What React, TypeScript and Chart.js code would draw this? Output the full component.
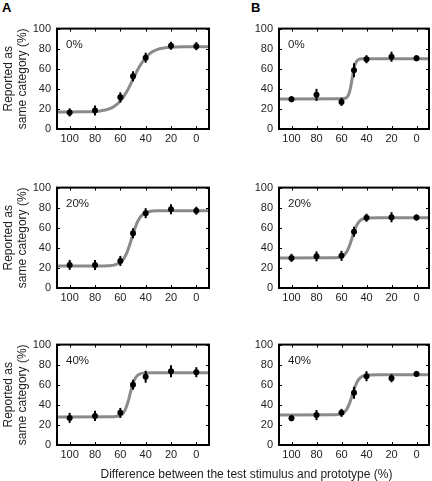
import React, { useEffect, useRef } from 'react';
import { Chart, registerables } from 'chart.js';

Chart.register(...registerables);

// ---------- data ----------
const POINT_X = [100, 80, 60, 50, 40, 20, 0];
const X_TICKS = [100, 80, 60, 40, 20, 0];
const Y_TICKS = [0, 20, 40, 60, 80, 100];
const PANEL_LABELS = ['0%', '20%', '40%'];
const COLUMN_LETTERS = ['A', 'B'];
const Y_TITLE = ['Reported as', 'same category (%)'];
const X_TITLE = 'Difference between the test stimulus and prototype (%)';

// column A
const A1_MEAN = [16.5, 18.5, 31.5, 52.5, 71, 83, 82.5];
const A1_ERR = [4, 5, 5, 5, 5, 4, 4];
const A1_FIT_X = [110, 90, 80, 75, 70, 65, 60, 55, 50, 45, 40, 35, 30, 25, 20, 10, -10];
const A1_FIT_Y = [17, 17.1, 17.5, 18.2, 19.5, 22.4, 27.9, 37.1, 49.5, 61.9, 71.1, 76.6, 79.5, 80.8, 81.5, 81.9, 82];

const A2_MEAN = [23, 23, 27, 54.5, 74.5, 78.5, 77];
const A2_ERR = [5, 5, 5, 5, 5, 5, 4];
const A2_FIT_X = [110, 75, 70, 65, 60, 57, 55, 53, 51, 49, 47, 45, 43, 40, 35, 30, -10];
const A2_FIT_Y = [22, 22, 22.2, 22.8, 25.5, 29.8, 34.7, 41.5, 49.5, 57.5, 64.3, 69.2, 72.4, 75, 76.6, 76.9, 77];

const A3_MEAN = [27, 29, 32, 60, 68, 73.5, 72.5];
const A3_ERR = [5, 5, 5, 5, 6, 6, 5];
const A3_FIT_X = [110, 65, 60, 58, 56, 54, 52.5, 51, 49, 47, 45, 42, 35, -10];
const A3_FIT_Y = [28, 28.2, 29.5, 31.4, 35.6, 42.8, 50, 57.2, 64.5, 68.6, 70.5, 71.6, 72, 72];

// column B
const B1_MEAN = [29.7, 34, 27, 58.5, 69.5, 72, 70.5];
const B1_ERR = [3, 6, 4, 7, 4, 5, 3];
const B1_FIT_X = [110, 60, 57, 56, 55, 54, 53, 52, 51, 50, 49, 48, 47, 46, 44, 40, -10];
const B1_FIT_Y = [30, 30.1, 30.6, 31.3, 32.7, 35.3, 39.8, 46.3, 53.7, 60.2, 64.7, 67.3, 68.7, 69.4, 69.9, 70, 70];

const B2_MEAN = [30, 31.5, 32, 56, 70, 70.5, 70.2];
const B2_ERR = [4, 5, 5, 5, 4, 5, 3];
const B2_FIT_X = [110, 65, 60, 58, 56, 54, 52, 50, 48, 46, 44, 42, 40, 30, -10];
const B2_FIT_Y = [30, 30.2, 31.3, 32.8, 35.7, 40.8, 48, 55.8, 62.1, 66, 68.1, 69.1, 69.6, 70, 70];

const B3_MEAN = [26.7, 29.8, 32, 52, 68.5, 66.5, 70.8];
const B3_ERR = [3, 5, 4, 6, 5, 4, 3];
const B3_FIT_X = [110, 65, 60, 58, 56, 54, 52, 50, 48, 46, 44, 42, 40, 30, -10];
const B3_FIT_Y = [30, 30.2, 31.2, 32.6, 35.3, 40.2, 47.2, 55.1, 61.6, 65.7, 68, 69, 69.6, 70, 70];

// ---------- layout ----------
const FONT = '"Liberation Sans", Arial, Helvetica, sans-serif';
const TEXT = '#1e1e1e';
const ROW_TOPS = [24, 183, 340];
const PLOT_H = 105;
const PAD_TOP = 8;
const X_AXIS_H = 30;
const CANVAS_W = 216;

type PanelProps = {
  mean: number[];
  err: number[];
  fitX: number[];
  fitY: number[];
  label: string;
  col: number;
  row: number;
};

function Panel({ mean, err, fitX, fitY, label, col, row }: PanelProps) {
  const ref = useRef<HTMLCanvasElement | null>(null);
  const canvasH = PAD_TOP + PLOT_H + X_AXIS_H;
  const isA = col === 0;
  const yWidth = isA ? 57 : 63;
  const rightPad = isA ? 7 : 2;

  useEffect(() => {
    if (!ref.current) return;
    const overlay = {
      id: 'overlay' + col + row,
      afterDatasetsDraw(chart: any) {
        const ctx = chart.ctx;
        const xs = chart.scales.x;
        const ys = chart.scales.y;
        const ca = chart.chartArea;
        ctx.save();
        // error bars
        ctx.strokeStyle = '#000';
        ctx.lineWidth = 2;
        POINT_X.forEach((xv, i) => {
          const px = xs.getPixelForValue(xv);
          ctx.beginPath();
          ctx.moveTo(px, ys.getPixelForValue(mean[i] - err[i]));
          ctx.lineTo(px, ys.getPixelForValue(mean[i] + err[i]));
          ctx.stroke();
        });
        // frame
        ctx.lineWidth = 2;
        ctx.strokeRect(ca.left, ca.top, ca.right - ca.left, ca.bottom - ca.top);
        // inward ticks
        ctx.lineWidth = 1;
        ctx.beginPath();
        xs.ticks.forEach((t: any) => {
          const px = Math.round(xs.getPixelForValue(t.value)) + 0.5;
          ctx.moveTo(px, ca.bottom);
          ctx.lineTo(px, ca.bottom - 3);
          ctx.moveTo(px, ca.top);
          ctx.lineTo(px, ca.top + 3);
        });
        ys.ticks.forEach((t: any) => {
          const py = Math.round(ys.getPixelForValue(t.value)) + 0.5;
          ctx.moveTo(ca.left, py);
          ctx.lineTo(ca.left + 3, py);
          ctx.moveTo(ca.right, py);
          ctx.lineTo(ca.right - 3, py);
        });
        ctx.stroke();
        // panel label
        ctx.fillStyle = TEXT;
        ctx.font = '11.5px ' + FONT;
        ctx.textBaseline = 'middle';
        ctx.textAlign = 'left';
        ctx.fillText(label, ca.left + 9, ca.top + 16);
        ctx.restore();
      },
    };

    const chart = new Chart(ref.current, {
      type: 'scatter',
      data: {
        datasets: [
          {
            data: POINT_X.map((x, i) => ({ x, y: mean[i] })),
            pointRadius: 3,
            pointHoverRadius: 3,
            pointBackgroundColor: '#000',
            pointBorderColor: '#000',
            pointBorderWidth: 0,
            showLine: false,
          },
          {
            data: fitX.map((x, i) => ({ x, y: fitY[i] })),
            showLine: true,
            pointRadius: 0,
            pointHoverRadius: 0,
            borderColor: '#8a8a8a',
            borderWidth: 3,
            cubicInterpolationMode: 'monotone',
            fill: false,
          },
        ],
      },
      options: {
        responsive: false,
        animation: false,
        events: [],
        clip: false,
        layout: { padding: { top: PAD_TOP, right: rightPad, left: 0, bottom: 0 } },
        plugins: { legend: { display: false }, tooltip: { enabled: false } },
        scales: {
          x: {
            type: 'linear',
            min: -10,
            max: 110,
            reverse: true,
            afterBuildTicks: (s: any) => {
              s.ticks = X_TICKS.map((v) => ({ value: v }));
            },
            afterFit: (s: any) => {
              s.height = X_AXIS_H;
            },
            grid: { display: false, drawTicks: false },
            border: { display: false },
            ticks: { padding: 3, color: TEXT, font: { size: 11, family: FONT }, maxRotation: 0 },
          },
          y: {
            type: 'linear',
            min: 0,
            max: 100,
            afterBuildTicks: (s: any) => {
              s.ticks = Y_TICKS.map((v) => ({ value: v }));
            },
            afterFit: (s: any) => {
              s.width = yWidth;
            },
            grid: { display: false, drawTicks: false },
            border: { display: false },
            ticks: { padding: 6, color: TEXT, font: { size: 11, family: FONT } },
            title: {
              display: isA,
              text: Y_TITLE,
              color: TEXT,
              font: { size: 12, family: FONT, lineHeight: 1.2 },
              padding: { top: 1, bottom: 0 },
            },
          },
        },
      },
      plugins: [overlay],
    } as any);
    return () => chart.destroy();
  }, []);

  return (
    <canvas
      ref={ref}
      width={CANVAS_W}
      height={canvasH}
      style={{
        position: 'absolute',
        left: col * CANVAS_W,
        top: ROW_TOPS[row] - PAD_TOP,
        width: CANVAS_W,
        height: canvasH,
      }}
    />
  );
}

const PANELS = [
  { mean: A1_MEAN, err: A1_ERR, fitX: A1_FIT_X, fitY: A1_FIT_Y, col: 0, row: 0 },
  { mean: B1_MEAN, err: B1_ERR, fitX: B1_FIT_X, fitY: B1_FIT_Y, col: 1, row: 0 },
  { mean: A2_MEAN, err: A2_ERR, fitX: A2_FIT_X, fitY: A2_FIT_Y, col: 0, row: 1 },
  { mean: B2_MEAN, err: B2_ERR, fitX: B2_FIT_X, fitY: B2_FIT_Y, col: 1, row: 1 },
  { mean: A3_MEAN, err: A3_ERR, fitX: A3_FIT_X, fitY: A3_FIT_Y, col: 0, row: 2 },
  { mean: B3_MEAN, err: B3_ERR, fitX: B3_FIT_X, fitY: B3_FIT_Y, col: 1, row: 2 },
];

export default function App() {
  return (
    <div
      style={{
        position: 'absolute',
        left: 0,
        top: 0,
        width: 432,
        height: 481,
        background: '#fff',
        overflow: 'hidden',
        fontFamily: FONT,
      }}
    >
      {PANELS.map((p) => (
        <Panel key={p.col + '-' + p.row} {...p} label={PANEL_LABELS[p.row]} />
      ))}
      <div style={{ position: 'absolute', left: 2, top: 1, fontSize: 13, fontWeight: 'bold', lineHeight: 1, color: '#000' }}>
        {COLUMN_LETTERS[0]}
      </div>
      <div style={{ position: 'absolute', left: 251, top: 1, fontSize: 13, fontWeight: 'bold', lineHeight: 1, color: '#000' }}>
        {COLUMN_LETTERS[1]}
      </div>
      <div
        style={{
          position: 'absolute',
          left: 61,
          width: 371,
          top: 468,
          fontSize: 12,
          lineHeight: 1,
          textAlign: 'center',
          color: TEXT,
          whiteSpace: 'nowrap',
        }}
      >
        {X_TITLE}
      </div>
    </div>
  );
}
